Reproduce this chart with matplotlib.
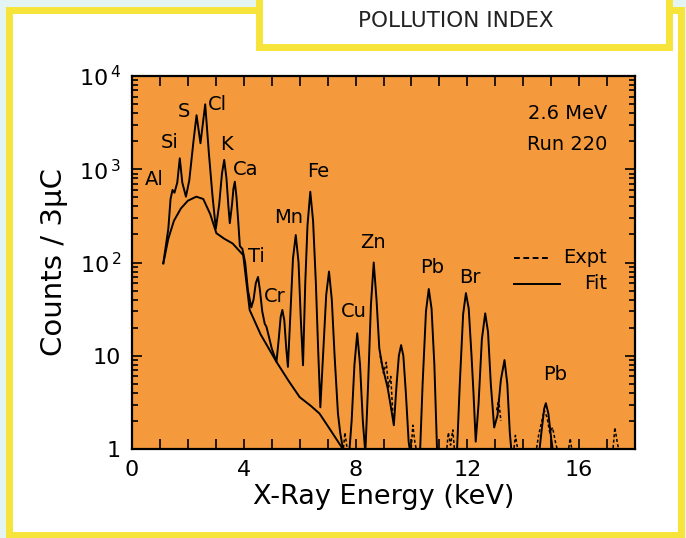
import matplotlib
matplotlib.use("Agg")
import matplotlib.pyplot as plt
from matplotlib.patches import Rectangle
from matplotlib.ticker import MultipleLocator, FixedLocator, FuncFormatter, LogLocator, NullFormatter

# --- data (energy in keV, counts / 3 uC) ---
bg_e = [1.12, 1.30, 1.50, 1.75, 2.00, 2.30, 2.55, 2.80, 3.02, 3.30, 3.60, 3.98, 4.21,
        4.60, 5.17, 5.60, 6.00, 6.40, 6.71, 7.10, 7.49, 7.70]
bg_c = [98, 180, 280, 380, 460, 508, 480, 330, 206, 180, 160, 120, 31,
        17, 8.6, 5.4, 3.6, 2.9, 2.4, 1.6, 1.06, 0.8]

fit_e = [1.12, 1.30, 1.38, 1.45, 1.52, 1.62, 1.71, 1.80, 1.93, 2.05, 2.20, 2.31, 2.45,
         2.62, 2.75, 2.88, 3.00, 3.12, 3.22, 3.30, 3.38, 3.45, 3.50, 3.58, 3.63, 3.68,
         3.74, 3.80, 3.86, 3.95, 4.05, 4.15, 4.27, 4.35, 4.43, 4.51, 4.58, 4.66, 4.75,
         4.81, 4.90, 5.00, 5.17, 5.25, 5.32, 5.38, 5.45, 5.52, 5.58,
         5.66, 5.76, 5.86, 5.96, 6.04, 6.12, 6.20, 6.28, 6.38, 6.48, 6.58, 6.66, 6.74,
         6.85, 6.95, 7.05, 7.15, 7.25, 7.37, 7.45, 7.55, 7.66,
         7.76, 7.86, 7.96, 8.06, 8.16, 8.26, 8.35, 8.45, 8.55, 8.65, 8.75, 8.85,
         8.95, 9.05, 9.15, 9.25, 9.37, 9.47, 9.55, 9.63, 9.71, 9.80, 9.90, 9.98,
         10.30, 10.40, 10.52, 10.62, 10.72, 10.82, 10.92, 10.98,
         11.62, 11.73, 11.85, 11.95, 12.05, 12.15, 12.22, 12.30,
         12.40, 12.52, 12.64, 12.74, 12.84, 12.96, 13.08, 13.20, 13.33, 13.43, 13.52, 13.60,
         14.55, 14.65, 14.75, 14.81, 14.90, 15.00, 15.10, 18.00]
fit_c = [98, 230, 480, 600, 560, 720, 1310, 720, 508, 760, 2000, 3800, 1900,
         4970, 1500, 520, 230, 420, 900, 1260, 800, 400, 264, 420, 620, 735,
         500, 280, 150, 140, 100, 50, 33, 40, 60, 70, 50, 30, 22,
         20.5, 16, 12, 8.6, 15, 26, 31, 24, 12, 7.6,
         25, 110, 197, 100, 25, 7.9, 60, 250, 574, 280, 60, 12, 2.8,
         12, 45, 80, 40, 10, 2.4, 1.5, 1.0, 0.8,
         0.8, 2.0, 8, 17.4, 8, 2.0, 0.9, 5, 35, 100, 40, 12,
         8, 6, 4.5, 3, 1.8, 5, 10, 13, 10, 4, 1.2, 0.8,
         0.8, 5, 30, 52, 32, 8, 0.9, 0.8,
         0.8, 5, 28, 47, 32, 10, 4, 1.2,
         3, 15, 28.5, 18, 5, 1.7, 2.3, 5.5, 9, 5, 1.5, 0.8,
         0.8, 1.5, 2.7, 3.1, 2.4, 1.3, 0.8, 0.8]

# experimental spectrum where it shows apart from the fit (dashed pieces)
expt_segments = [
    ([8.88, 9.00, 9.10, 9.18, 9.26, 9.34], [10, 6.5, 8.5, 4.6, 6.0, 2.2]),
    ([7.55, 7.62, 7.68, 7.75], [0.9, 1.5, 1.1, 0.9]),
    ([9.98, 10.05, 10.12, 10.20], [0.9, 1.8, 1.2, 0.9]),
    ([11.25, 11.32, 11.40, 11.48, 11.55], [0.9, 1.5, 1.1, 1.6, 0.9]),
    ([13.05, 13.12, 13.20], [2.6, 3.4, 2.0]),
    ([13.65, 13.72, 13.80, 13.88], [0.9, 1.4, 1.0, 0.9]),
    ([14.45, 14.55, 14.65, 14.75, 14.85, 14.95, 15.05, 15.15, 15.25],
     [0.9, 1.4, 1.9, 2.6, 2.2, 1.5, 1.7, 1.2, 0.9]),
    ([15.60, 15.68, 15.76], [0.9, 1.3, 0.9]),
    ([17.20, 17.28, 17.36, 17.44], [0.9, 1.7, 1.2, 0.9]),
]

labels = ["Al", "Si", "S", "Cl", "K", "Ca", "Ti", "Cr", "Mn", "Fe", "Cu", "Zn", "Pb", "Br", "Pb"]
label_e = [0.80, 1.36, 1.85, 3.05, 3.37, 4.05, 4.47, 5.12, 5.62, 6.65, 7.95, 8.62, 10.73, 12.08, 15.15]
label_c = [620, 1540, 3300, 3950, 1450, 780, 92, 34, 240, 750, 23.6, 130, 70, 54, 5.0]

W, H = 686, 538
ORANGE = "#F59A3C"
YELLOW = "#F7E43A"
CYAN = "#E3F4F3"

fig = plt.figure(figsize=(W / 100, H / 100), dpi=100, facecolor=CYAN)

def px(x, y):
    return x / W, 1 - y / H

# outer frame and title box (behind the axes)
lw_frame = 5
x0, y0 = px(8.5, 9.5)
x1, y1 = px(680.5, 535)
fig.patches.append(Rectangle((x0, y1), x1 - x0, y0 - y1, transform=fig.transFigure,
                             facecolor="white", edgecolor=YELLOW, linewidth=lw_frame, zorder=-10))
bx0, by0 = px(258.5, -10)
bx1, by1 = px(668.5, 46.5)
fig.patches.append(Rectangle((bx0, by1), bx1 - bx0, by0 - by1, transform=fig.transFigure,
                             facecolor="white", edgecolor=YELLOW, linewidth=lw_frame, zorder=-9))
tx, ty = px(456, 21)
fig.text(tx, ty, "POLLUTION INDEX", ha="center", va="center", fontsize=15.5, color="#222222")

# axes
l, t = px(132, 76)
r, b = px(635, 449)
ax = fig.add_axes([l, b, r - l, t - b])
ax.set_facecolor(ORANGE)
ax.set_yscale("log")
ax.set_xlim(0, 18)
ax.set_ylim(1, 1e4)

ax.plot(bg_e, bg_c, color="black", lw=1.4)
ax.plot(fit_e, fit_c, color="black", lw=1.4)
for se, sc in expt_segments:
    ax.plot(se, sc, color="black", lw=1.1, ls=(0, (2, 1.5)))

for name, e, c in zip(labels, label_e, label_c):
    ax.text(e, c, name, ha="center", va="bottom", fontsize=14)

ax.text(0.945, 0.90, "2.6 MeV", transform=ax.transAxes, ha="right", va="center", fontsize=14)
ax.text(0.945, 0.817, "Run 220", transform=ax.transAxes, ha="right", va="center", fontsize=14)

# legend drawn by hand like the original
ax.plot([0.76, 0.83], [0.513, 0.513], transform=ax.transAxes, color="black", lw=1.4, ls=(0, (3, 1.8)))
ax.plot([0.76, 0.85], [0.443, 0.443], transform=ax.transAxes, color="black", lw=1.4)
ax.text(0.945, 0.513, "Expt", transform=ax.transAxes, ha="right", va="center", fontsize=14)
ax.text(0.945, 0.443, "Fit", transform=ax.transAxes, ha="right", va="center", fontsize=14)

# ticks
ax.xaxis.set_major_locator(MultipleLocator(1))
ax.xaxis.set_major_formatter(FuncFormatter(lambda v, p: f"{int(v)}" if v % 4 == 0 else ""))
ax.yaxis.set_major_locator(FixedLocator([1, 10, 100, 1000, 10000]))
ax.yaxis.set_major_formatter(FuncFormatter(
    lambda v, p: {1: "1", 10: "10", 100: r"$10^{\,2}$", 1000: r"$10^{\,3}$", 10000: r"$10^{\,4}$"}.get(int(round(v)), "")))
ax.yaxis.set_minor_locator(LogLocator(base=10, subs=range(2, 10)))
ax.yaxis.set_minor_formatter(NullFormatter())
ax.tick_params(which="both", direction="in", top=True, right=True, width=1.2, colors="black")
ax.tick_params(which="major", length=7, labelsize=16, pad=8)
ax.tick_params(which="minor", length=4)
for s in ax.spines.values():
    s.set_linewidth(1.6)

ax.set_xlabel("X-Ray Energy (keV)", fontsize=19.5, labelpad=3)
ax.set_ylabel("Counts / 3μC", fontsize=21, labelpad=8)

fig.savefig("out.png", dpi=100, facecolor=fig.get_facecolor())
